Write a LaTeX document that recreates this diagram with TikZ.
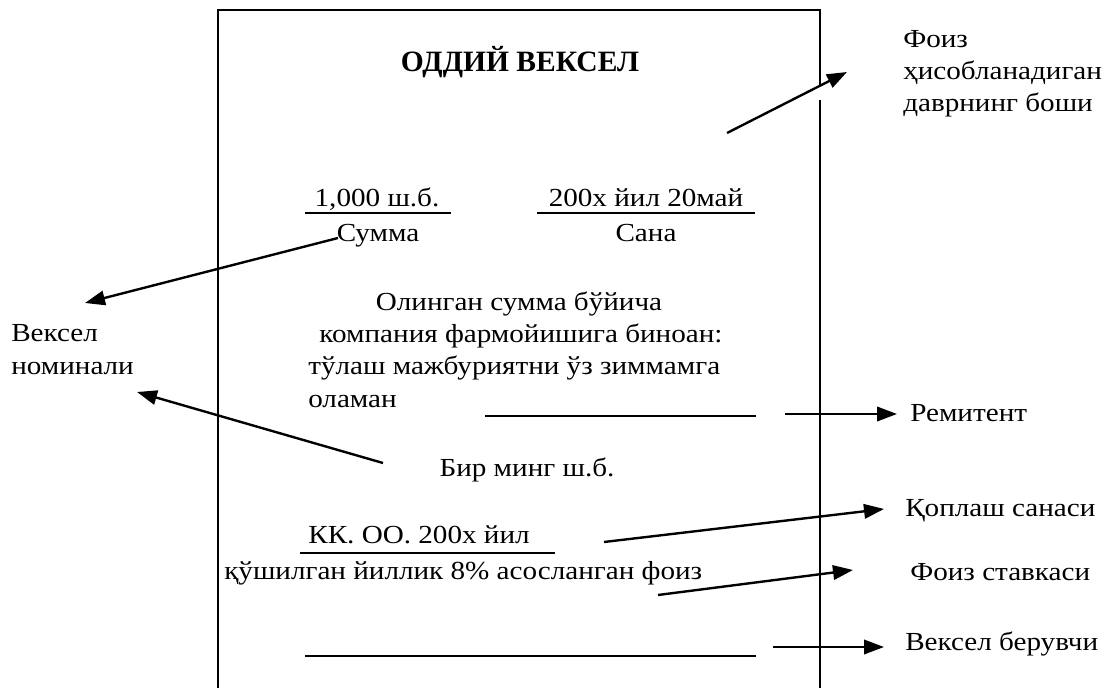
\documentclass[tikz,border=0pt]{standalone}
\usepackage{fontspec}
\setmainfont[FakeStretch=1.12]{Liberation Serif}
\newfontfamily\titlefont{Liberation Serif}
\usepackage{tikz}
\usetikzlibrary{arrows.meta, positioning, calc}
\tikzset{
	txt/.style={inner sep=0pt, font=\fontsize{18.5}{23}\selectfont},
	txt_title/.style={inner sep=0pt, font=\titlefont\fontsize{21}{26}\selectfont\bfseries},
	frame_line/.style={draw=black, line width=1.4pt},
	blank_line/.style={draw=black, line width=1.3pt},
	ptr_arrow/.style={-{Triangle[length=0.5cm, width=0.36cm]}, draw=black, line width=1.7pt}
}
\begin{document}
\begin{tikzpicture}[x=0.025cm, y=-0.025cm]
	\useasboundingbox (0,0) rectangle (1110,688);
	% bill frame
	\draw[frame_line] (820,86) -- (820,10) -- (218,10) -- (218,700);
	\draw[frame_line] (820,100) -- (820,700);
	\node[txt_title, anchor=base] (title) at (520,72) {ОДДИЙ ВЕКСЕЛ};
	% sum and date
	\node[txt, anchor=base] (sum) at (377,207) {1,000 ш.б.};
	\node[txt, anchor=base] (sumlbl) at (378,242) {Сумма};
	\node[txt, anchor=base] (date) at (646,207) {200х йил 20май};
	\node[txt, anchor=base] (datelbl) at (646,242) {Сана};
	\coordinate (sumL) at (305,213);
	\coordinate (sumR) at (451,213);
	\coordinate (dateL) at (537,213);
	\coordinate (dateR) at (755,213);
	\draw[blank_line] (sumL) -- (sumR);
	\draw[blank_line] (dateL) -- (dateR);
	% promise text
	\node[txt, anchor=base] (p1) at (519,311) {Олинган сумма бўйича};
	\node[txt, anchor=base] (p2) at (521,343) {компания фармойишига биноан:};
	\node[txt, anchor=base west] (p3) at (308,375) {тўлаш мажбуриятни ўз зиммамга};
	\node[txt, anchor=base west] (p4) at (308,407) {оламан};
	\coordinate (remL) at (485,416);
	\coordinate (remR) at (756,416);
	\draw[blank_line] (remL) -- (remR);
	\node[txt, anchor=base] (words) at (527,476) {Бир минг ш.б.};
	% due date and rate
	\node[txt, anchor=base] (due) at (419,543) {КК. ОО. 200х йил};
	\coordinate (dueL) at (300,553);
	\coordinate (dueR) at (555,553);
	\draw[blank_line] (dueL) -- (dueR);
	\node[txt, anchor=base west] (rate) at (224,579) {қўшилган йиллик 8\% асосланган фоиз};
	\coordinate (signL) at (305,656);
	\coordinate (signR) at (756,656);
	\draw[blank_line] (signL) -- (signR);
	% outside labels
	\node[txt, anchor=base west] (start1) at (903,48) {Фоиз};
	\node[txt, anchor=base west] (start2) at (903,80) {ҳисобланадиган};
	\node[txt, anchor=base west] (start3) at (903,112) {даврнинг боши};
	\node[txt, anchor=base west] (nom1) at (11,342) {Вексел};
	\node[txt, anchor=base west] (nom2) at (11,374) {номинали};
	\node[txt, anchor=base west] (remit) at (910,421) {Ремитент};
	\node[txt, anchor=base west] (repay) at (905,516) {Қоплаш санаси};
	\node[txt, anchor=base west] (ratelbl) at (910,580) {Фоиз ставкаси};
	\node[txt, anchor=base west] (drawer) at (905,650) {Вексел берувчи};
	% arrows
	\coordinate (a1s) at (727,133);
	\coordinate (a1e) at (847,72);
	\coordinate (a2s) at (338,238);
	\coordinate (a2e) at (85,303);
	\coordinate (a3s) at (383,463);
	\coordinate (a3e) at (137,392);
	\coordinate (a4s) at (785,414);
	\coordinate (a4e) at (897,414);
	\coordinate (a5s) at (604,542);
	\coordinate (a5e) at (884,509);
	\coordinate (a6s) at (658,595);
	\coordinate (a6e) at (853,570);
	\coordinate (a7s) at (773,647);
	\coordinate (a7e) at (884,647);
	\draw[ptr_arrow] (a1s) -- (a1e);
	\draw[ptr_arrow] (a2s) -- (a2e);
	\draw[ptr_arrow] (a3s) -- (a3e);
	\draw[ptr_arrow] (a4s) -- (a4e);
	\draw[ptr_arrow] (a5s) -- (a5e);
	\draw[ptr_arrow] (a6s) -- (a6e);
	\draw[ptr_arrow] (a7s) -- (a7e);
\end{tikzpicture}
\end{document}
